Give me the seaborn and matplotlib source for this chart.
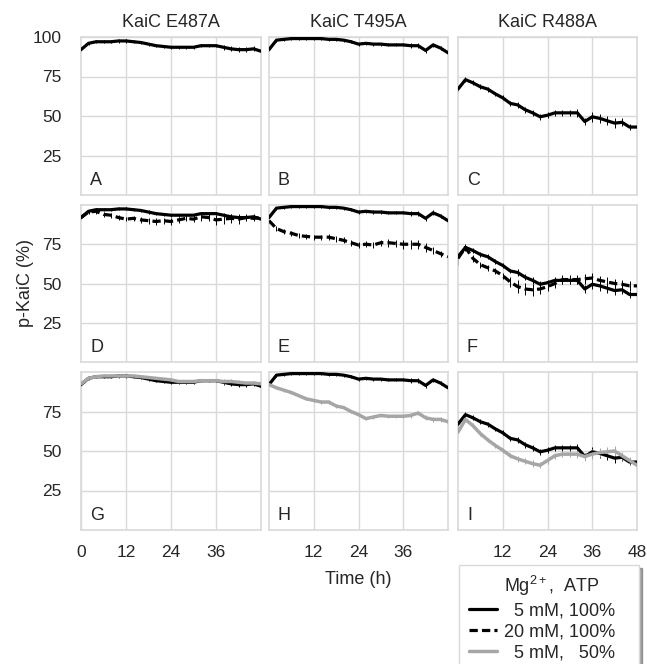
import numpy as np
import pandas as pd
import matplotlib
matplotlib.use("Agg")
import matplotlib.pyplot as plt
from matplotlib.lines import Line2D
import seaborn as sns

# Time points (h)
time = [0, 2, 4, 6, 8, 10, 12, 14, 16, 18, 20, 22, 24,
        26, 28, 30, 32, 34, 36, 38, 40, 42, 44, 46, 48]

mutants = ['KaiC E487A', 'KaiC T495A', 'KaiC R488A']

# 5 mM Mg2+, 100% ATP (control, same in every row)
ctrl_E487A = [92, 96, 97, 97, 97, 97.5, 97.5, 97, 96.5, 95.5, 94.5, 94, 93.5,
              93.5, 93.5, 93.5, 94.5, 94.5, 94.5, 93.5, 92.5, 92, 92, 92.5, 91]
ctrl_T495A = [92, 98, 98.5, 99, 99, 99, 99, 99, 98.5, 98.5, 98, 97, 95.5,
              96, 95.5, 95.5, 95, 95, 95, 94.5, 94.5, 91.5, 95, 93, 90]
ctrl_R488A = [67, 73, 71, 68.5, 67, 64, 61.5, 58, 57, 54, 52, 49.5, 50.5,
              52, 52, 52, 52, 46.5, 49.5, 48.5, 47, 45.5, 46, 43, 43]

# 20 mM Mg2+, 100% ATP
mg20_E487A = [92, 95.5, 96, 94, 93.5, 92, 91, 91.5, 90.5, 90, 89.5, 90, 89.5,
              90.5, 91.5, 91, 92.5, 92, 90.5, 91, 91.5, 91, 92, 91.5, 92]
mg20_T495A = [90, 85, 83, 82, 80.5, 80, 79.5, 79.5, 79.5, 78.5, 77.5, 76, 74.5,
              75, 74.5, 76, 76, 75.5, 75, 75, 75, 73, 71, 69, 67]
mg20_R488A = [66, 73, 66, 62, 60, 58, 55, 51, 48, 46.5, 46, 46.5, 48,
              50, 52.5, 52.5, 52.5, 53, 53.5, 52, 51, 50, 49.5, 48.5, 48.5]

# 5 mM Mg2+, 50% ATP
atp50_E487A = [92.5, 96, 97, 97.5, 97.5, 97.5, 97.5, 97.5, 97, 96.5, 96, 95.5, 95,
               94, 94, 94, 94.5, 94.5, 94.5, 94, 94, 93.5, 93, 93, 92.5]
atp50_T495A = [92, 90, 88.5, 87, 85, 83, 82, 81, 81, 78.5, 77.5, 75, 73,
               70.5, 71.5, 72.5, 72, 72, 72, 72.5, 74, 71, 70, 70, 68.5]
atp50_R488A = [62, 70, 66, 61, 57, 53.5, 50.5, 47, 45, 43.5, 42, 41, 44,
               47, 48, 48, 48, 46.5, 48, 49, 49.5, 50, 47, 44, 41]

# error bar half-lengths
err_small = [1, 1, 1, 1, 1, 1, 1, 1, 1, 1, 1, 1, 1,
             1, 1, 1, 1, 1, 1, 1.5, 1.5, 1.5, 1.5, 1.5, 1.5]
err_mid = [1.5, 1.5, 1.5, 1.5, 1.5, 1.5, 1.5, 1.5, 2, 2, 2, 2, 2,
           2, 2, 2, 2.5, 2.5, 3, 3, 3, 3, 2.5, 2, 2]
err_big = [4, 2, 2, 2, 2, 2, 2, 3, 4, 4, 4, 3, 3,
           3, 3, 3, 3, 3, 3, 3, 3, 3, 3, 3, 3]

rows = [
    [(ctrl_E487A, err_small, 'ctrl'), (ctrl_T495A, err_small, 'ctrl'), (ctrl_R488A, err_mid, 'ctrl')],
    [(ctrl_E487A, err_small, 'ctrl'), (mg20_E487A, err_mid, 'mg20'),
     (ctrl_T495A, err_small, 'ctrl'), (mg20_T495A, err_mid, 'mg20'),
     (ctrl_R488A, err_mid, 'ctrl'), (mg20_R488A, err_big, 'mg20')],
    [(ctrl_E487A, err_small, 'ctrl'), (atp50_E487A, err_small, 'atp50'),
     (ctrl_T495A, err_small, 'ctrl'), (atp50_T495A, err_small, 'atp50'),
     (ctrl_R488A, err_mid, 'ctrl'), (atp50_R488A, err_mid, 'atp50')],
]
letters = ['A', 'B', 'C', 'D', 'E', 'F', 'G', 'H', 'I']

styles = {
    'ctrl': dict(color='black', linestyle='-', lw=2.3),
    'mg20': dict(color='black', linestyle=(0, (2.6, 1.3)), lw=2.3),
    'atp50': dict(color='#A6A6A6', linestyle='-', lw=2.5),
}

sns.set_style("white")
plt.rcParams['font.family'] = ['Liberation Sans', 'DejaVu Sans']
plt.rcParams['mathtext.fontset'] = 'custom'
plt.rcParams['mathtext.rm'] = 'Liberation Sans'
plt.rcParams['mathtext.it'] = 'Liberation Sans'

W, H = 647, 664
fig = plt.figure(figsize=(W / 100, H / 100), dpi=100)

col_x = [(81, 261), (269, 448), (458, 637)]
row_y = [(37, 195), (205, 362), (372, 530)]
grid_c = '#D9D9D9'
text_c = '#262626'
fs = 13

for r in range(3):
    if r == 0:
        per_col = [[rows[0][c]] for c in range(3)]
    else:
        per_col = [rows[r][2 * c:2 * c + 2] for c in range(3)]
    for c in range(3):
        x0, x1 = col_x[c]
        y0, y1 = row_y[r]
        ax = fig.add_axes([x0 / W, 1 - y1 / H, (x1 - x0) / W, (y1 - y0) / H])
        ax.set_xlim(0, 48)
        ax.set_ylim(0, 100)
        ax.set_xticks([12, 24, 36])
        ax.set_yticks([25, 50, 75])
        ax.grid(True, color=grid_c, lw=1)
        ax.set_axisbelow(True)
        for s in ax.spines.values():
            s.set_color(grid_c)
            s.set_linewidth(1.2)
        for vals, err, key in per_col[c]:
            st = styles[key]
            ax.errorbar(time, vals, yerr=err, fmt='none', ecolor=st['color'],
                        elinewidth=0.7, capsize=0, zorder=2)
            sns.lineplot(x=time, y=vals, ax=ax, color=st['color'],
                         linestyle=st['linestyle'], lw=st['lw'], zorder=3)
        ax.tick_params(length=0, labelsize=12.5, colors=text_c)
        ax.tick_params(axis='y', pad=14)
        ax.tick_params(axis='x', pad=11)
        if r == 0:
            ax.set_yticks([25, 50, 75, 100])
        if c > 0:
            ax.set_yticklabels([])
        if r < 2:
            ax.set_xticklabels([])
        else:
            if c == 0:
                ax.set_xticks([0, 12, 24, 36])
            elif c == 2:
                ax.set_xticks([12, 24, 36, 48])
        ax.set_xlabel('')
        ax.set_ylabel('')
        ax.text(0.05, 0.09, letters[r * 3 + c], transform=ax.transAxes,
                fontsize=fs, color=text_c, va='center', ha='left')
        if r == 0:
            ax.set_title(mutants[c], fontsize=fs, color=text_c, pad=7)

fig.text(25 / W, 1 - 283 / H, 'p-KaiC (%)', rotation=90, fontsize=fs,
         color=text_c, ha='center', va='center')
fig.text(358 / W, 1 - 579 / H, 'Time (h)', fontsize=fs, color=text_c,
         ha='center', va='center')

handles = [Line2D([], [], color='black', lw=2.3),
           Line2D([], [], color='black', lw=2.3, linestyle=(0, (2.6, 1.3))),
           Line2D([], [], color='#A6A6A6', lw=2.5)]
labels = ['  5 mM, 100%   ', '20 mM, 100%   ', '  5 mM,   50%   ']
leg = fig.legend(handles, labels, title='Mg$^{2+}$,  ATP       ',
                 loc='upper right', bbox_to_anchor=(639 / W, 1 - 565 / H),
                 borderaxespad=0, fontsize=fs, title_fontsize=fs, frameon=True,
                 fancybox=False, shadow=True, edgecolor=grid_c,
                 handlelength=1.6, handletextpad=0.35, labelspacing=0.22,
                 borderpad=0.5, alignment='right')
leg.get_frame().set_linewidth(1)
for t in leg.get_texts():
    t.set_color(text_c)
leg.get_title().set_color(text_c)

plt.savefig('out.png', dpi=100)
